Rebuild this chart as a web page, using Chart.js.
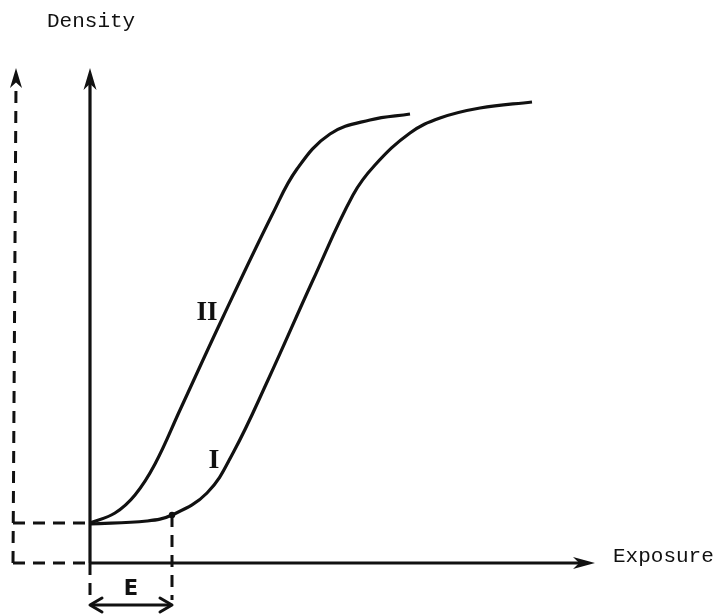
<!DOCTYPE html>
<html>
<head>
<meta charset="utf-8">
<script src="https://cdn.jsdelivr.net/npm/chart.js@4/dist/chart.umd.min.js"></script>
<style>
  html, body { margin: 0; padding: 0; background: #fff; }
  canvas { display: block; }
</style>
</head>
<body>
<canvas id="curveChart" width="721" height="615"></canvas>
<script>
// exposure / density (arbitrary units, origin at the axes corner)
const curveIIExposure = [0, 2.5, 4.5, 6.5, 9.0, 13.3, 18.3, 20.7, 24.0, 28.0, 32.0];
const curveIIDensity  = [4.0, 5.0, 6.8, 9.9, 15.3, 24.6, 35.0, 39.4, 42.9, 44.3, 44.9];

const curveIExposure = [0, 5.7, 8.2, 11.7, 14.3, 17.8, 22.3, 26.3, 28.5, 32.0, 35.0, 39.0, 44.2];
const curveIDensity  = [3.9, 4.2, 4.8, 7.0, 11.0, 18.3, 28.3, 36.8, 39.8, 43.0, 44.5, 45.5, 46.1];

const fogDensity = 4.0;      // base density of both curves
const thresholdE = 8.2;      // exposure where curve I starts to rise
const thresholdDensity = 4.8;
const axisTop = 49.5;
const axisRight = 50.5;
const leftAxisX = -7.7;
const belowAxis = -3.7;
const eArrowY = -4.2;

const pts = (xs, ys) => xs.map((x, i) => ({ x: x, y: ys[i] }));
const seg = (x1, y1, x2, y2) => [{ x: x1, y: y1 }, { x: x2, y: y2 }];

const solid = { borderColor: '#111', borderWidth: 3.2, pointRadius: 0, fill: false, tension: 0 };
const dashed = { borderColor: '#111', borderWidth: 3, pointRadius: 0, fill: false, tension: 0, borderDash: [12, 8] };

// arrows: tip position and direction, drawn through the scales
const arrows = [
  { x: 0, y: axisTop, dir: 'up', len: 22, half: 6.5, filled: true },
  { x: -7.4, y: axisTop, dir: 'up', len: 20, half: 6, filled: true },
  { x: axisRight, y: 0, dir: 'right', len: 22, half: 6, filled: true },
  { x: 0, y: eArrowY, dir: 'left', len: 12, half: 7, filled: false },
  { x: thresholdE, y: eArrowY, dir: 'right', len: 12, half: 7, filled: false }
];

const labels = [
  { text: 'Density', x: -4.3, y: 53.6, font: '21px "Liberation Mono", monospace', align: 'left' },
  { text: 'Exposure', x: 52.3, y: 0.1, font: '21px "Liberation Mono", monospace', align: 'left' },
  { text: 'E', x: 4.1, y: -3.2, font: 'bold 21px "DejaVu Sans", sans-serif', align: 'center' },
  { text: 'II', x: 11.7, y: 24.3, font: 'bold 27px "Liberation Serif", serif', align: 'center' },
  { text: 'I', x: 12.4, y: 9.5, font: 'bold 28px "Liberation Serif", serif', align: 'center' }
];

const extras = {
  id: 'extras',
  afterDatasetsDraw(chart) {
    const { ctx, scales: { x, y } } = chart;
    ctx.save();
    ctx.fillStyle = '#111';
    ctx.strokeStyle = '#111';
    ctx.lineWidth = 3;
    ctx.lineJoin = 'round';
    ctx.lineCap = 'round';
    const ang = { up: -Math.PI / 2, right: 0, left: Math.PI, down: Math.PI / 2 };
    arrows.forEach(a => {
      const tx = x.getPixelForValue(a.x);
      const ty = y.getPixelForValue(a.y);
      const t = ang[a.dir];
      const c = Math.cos(t), s = Math.sin(t);
      const at = (back, side) => [tx - back * c - side * s, ty - back * s + side * c];
      ctx.beginPath();
      if (a.filled) {
        let p = at(0, 0); ctx.moveTo(p[0], p[1]);
        p = at(a.len, a.half); ctx.lineTo(p[0], p[1]);
        p = at(a.len * 0.72, 0); ctx.lineTo(p[0], p[1]);
        p = at(a.len, -a.half); ctx.lineTo(p[0], p[1]);
        ctx.closePath();
        ctx.fill();
      } else {
        let p = at(a.len, a.half); ctx.moveTo(p[0], p[1]);
        p = at(0, 0); ctx.lineTo(p[0], p[1]);
        p = at(a.len, -a.half); ctx.lineTo(p[0], p[1]);
        ctx.stroke();
      }
    });
    ctx.textBaseline = 'alphabetic';
    labels.forEach(l => {
      ctx.font = l.font;
      ctx.textAlign = l.align;
      ctx.fillText(l.text, x.getPixelForValue(l.x), y.getPixelForValue(l.y));
    });
    ctx.restore();
  }
};

new Chart(document.getElementById('curveChart').getContext('2d'), {
  type: 'line',
  data: {
    datasets: [
      { ...solid, label: 'II', data: pts(curveIIExposure, curveIIDensity), tension: 0.4 },
      { ...solid, label: 'I', data: pts(curveIExposure, curveIDensity), tension: 0.4 },
      { ...solid, label: 'density axis', data: seg(0, 0, 0, axisTop - 0.8) },
      { ...solid, label: 'exposure axis', data: seg(0, 0, axisRight - 0.8, 0) },
      { ...solid, label: 'E span', data: seg(0.2, eArrowY, thresholdE - 0.2, eArrowY) },
      { ...dashed, label: 'left axis', data: seg(leftAxisX, 0, -7.4, axisTop - 1.5) },
      { ...dashed, label: 'left base', data: seg(leftAxisX, 0, 0, 0) },
      { ...dashed, label: 'fog level', data: seg(leftAxisX, fogDensity, 0, fogDensity) },
      { ...dashed, label: 'axis below', data: seg(0, 0, 0, belowAxis) },
      { ...dashed, label: 'threshold', data: seg(thresholdE, thresholdDensity, thresholdE, belowAxis) },
      { label: 'threshold point', data: [{ x: thresholdE, y: thresholdDensity }], showLine: false,
        pointRadius: 3.2, pointBackgroundColor: '#111', pointBorderWidth: 0 }
    ]
  },
  options: {
    responsive: false,
    animation: false,
    layout: { padding: 0, autoPadding: false },
    scales: {
      x: { type: 'linear', min: -9, max: 63.1, display: false },
      y: { type: 'linear', min: -5.2, max: 56.3, display: false }
    },
    plugins: {
      legend: { display: false },
      tooltip: { enabled: false }
    }
  },
  plugins: [extras]
});
</script>
</body>
</html>
